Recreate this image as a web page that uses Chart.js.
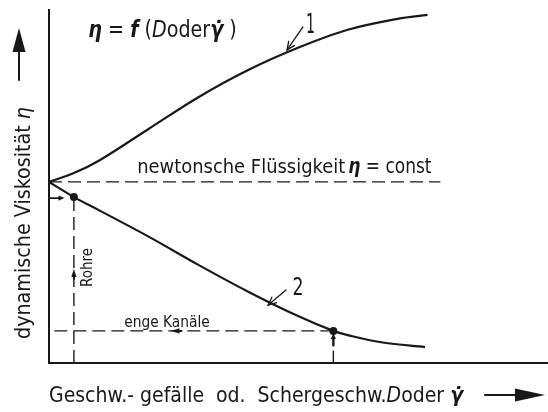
<!DOCTYPE html>
<html>
<head>
<meta charset="utf-8">
<script src="https://cdn.jsdelivr.net/npm/chart.js@4.4.1/dist/chart.umd.min.js"></script>
<style>
  html, body { margin: 0; padding: 0; background: #fff; }
  #wrap { width: 548px; height: 412px; }
</style>
</head>
<body>
<div id="wrap"><canvas id="chart"></canvas></div>
<script>
// shear rate D (relative units, 0..100) and viscosity eta (relative units, 0..100)
// curve 1: shear thickening, curve 2: shear thinning
var curve1X = [0, 5, 10, 20, 30, 40, 50, 60, 70, 76];
var curve1Y = [51.3, 53.8, 57.3, 66.3, 75.3, 83.0, 89.3, 94.4, 97.5, 98.6];
var curve2X = [0, 5, 10, 20, 30, 40, 50, 57.1, 60, 67, 75.5];
var curve2Y = [51.3, 47.0, 43.3, 35.8, 27.8, 20.2, 13.3, 9.1, 7.9, 5.8, 4.5];

// newtonian fluid: eta = const
var newtonY = 51.3;
var newtonEndX = 78.6;

// marked operating points on curve 2 (index into curve2X / curve2Y)
var pipeIdx = 1;      // Rohre
var channelIdx = 7;   // enge Kanäle

var ink = '#181818';
var family = '"DejaVu Sans", "Liberation Sans", sans-serif';

function pts(xs, ys) {
  return xs.map(function (x, i) { return { x: x, y: ys[i] }; });
}

function fontOf(p, size) {
  return (p.style || '') + ' ' + size + 'px ' + family;
}

// draws a run of text parts squeezed to a given width (narrow drawing lettering)
function drawRich(ctx, parts, x, y, size, width, angle) {
  var total = 0;
  parts.forEach(function (p) {
    ctx.font = fontOf(p, size);
    p.w = ctx.measureText(p.t).width;
    total += p.w;
  });
  ctx.save();
  ctx.translate(x, y);
  if (angle) ctx.rotate(angle);
  ctx.scale(width / total, 1);
  ctx.textBaseline = 'alphabetic';
  ctx.textAlign = 'left';
  var cx = 0;
  parts.forEach(function (p) {
    ctx.font = fontOf(p, size);
    ctx.fillText(p.t, cx, 0);
    cx += p.w;
  });
  ctx.restore();
}

function head(ctx, x, y, angle, len, half) {
  ctx.save();
  ctx.translate(x, y);
  ctx.rotate(angle);
  ctx.beginPath();
  ctx.moveTo(0, 0);
  ctx.lineTo(-len, -half);
  ctx.lineTo(-len, half);
  ctx.closePath();
  ctx.fill();
  ctx.restore();
}

function openHead(ctx, x, y, angle, len) {
  ctx.save();
  ctx.translate(x, y);
  ctx.rotate(angle);
  ctx.beginPath();
  ctx.moveTo(-len, -len * 0.45);
  ctx.lineTo(0, 0);
  ctx.lineTo(-len, len * 0.45);
  ctx.stroke();
  ctx.restore();
}

function line(ctx, x1, y1, x2, y2, w) {
  ctx.lineWidth = w;
  ctx.beginPath();
  ctx.moveTo(x1, y1);
  ctx.lineTo(x2, y2);
  ctx.stroke();
}

var sketch = {
  id: 'sketch',
  afterDatasetsDraw: function (chart) {
    var ctx = chart.ctx, area = chart.chartArea;
    var xs = chart.scales.x, ys = chart.scales.y;
    var X = function (v) { return xs.getPixelForValue(v); };
    var Y = function (v) { return ys.getPixelForValue(v); };
    var px = curve2X[pipeIdx], py = curve2Y[pipeIdx];
    var kx = curve2X[channelIdx], ky = curve2Y[channelIdx];

    ctx.save();
    ctx.fillStyle = ink;
    ctx.strokeStyle = ink;
    ctx.lineCap = 'round';

    // arrows along the guide lines
    head(ctx, X(px), Y(26.6), -Math.PI / 2, 8, 2.6);
    line(ctx, X(px), Y(26.6) + 6, X(px), Y(26.6) + 10, 2);
    head(ctx, X(24.4), Y(ky), Math.PI, 9, 2.6);
    line(ctx, X(24.4) + 6, Y(ky), X(24.4) + 11, Y(ky), 2);
    head(ctx, X(kx), Y(ky) + 2, -Math.PI / 2, 6, 2.6);
    line(ctx, X(kx), Y(ky) + 6, X(kx), Y(5.0), 2.4);
    line(ctx, X(0), Y(py) + 1, X(2.6), Y(py) + 1, 1.6);
    head(ctx, X(3.1), Y(py) + 1, 0, 6, 2.6);

    // leaders to the curve numbers
    line(ctx, X(47.8), Y(88.7), X(51.0), Y(95.2), 1.3);
    openHead(ctx, X(47.8), Y(88.7), Math.atan2(Y(88.7) - Y(95.2), X(47.8) - X(51.0)), 8);
    line(ctx, X(44.0), Y(16.4), X(47.6), Y(20.7), 1.3);
    openHead(ctx, X(44.0), Y(16.4), Math.atan2(Y(16.4) - Y(20.7), X(44.0) - X(47.6)), 8);

    // annotations
    drawRich(ctx, [
      { t: 'η', style: 'italic bold' }, { t: ' = ' }, { t: 'f', style: 'italic bold' },
      { t: ' (' }, { t: 'D', style: 'italic' }, { t: 'oder' }, { t: 'γ̇', style: 'italic bold' }, { t: ' )' }
    ], X(7.9), Y(92.4), 23, X(37.7) - X(7.9));
    drawRich(ctx, [{ t: 'newtonsche Flüssigkeit' }], X(17.7), Y(53.8), 20, X(59.5) - X(17.7));
    drawRich(ctx, [{ t: 'η', style: 'italic bold' }, { t: ' = const' }], X(60.1), Y(53.8), 21, X(76.8) - X(60.1));
    drawRich(ctx, [{ t: 'enge Kanäle' }], X(15.1), Y(10.2), 15, X(32.3) - X(15.1));
    drawRich(ctx, [{ t: 'Rohre' }], X(8.7), Y(21.5), 15, Y(21.5) - Y(32.6), -Math.PI / 2);
    drawRich(ctx, [{ t: '1' }], X(51.6), Y(93.5), 27, 9);
    drawRich(ctx, [{ t: '2' }], X(48.9), Y(19.3), 24, 11);

    // axis titles with direction arrows
    drawRich(ctx, [{ t: 'dynamische Viskosität ' }, { t: 'η', style: 'italic' }],
      area.left - 19, area.bottom - 24, 22, 232, -Math.PI / 2);
    line(ctx, area.left - 30, 80, area.left - 30, 48, 2);
    head(ctx, area.left - 30, 28, -Math.PI / 2, 24, 6.5);
    drawRich(ctx, [
      { t: 'Geschw.- gefälle  od.  Schergeschw.' }, { t: 'D', style: 'italic' },
      { t: 'oder ' }, { t: 'γ̇', style: 'italic bold' }
    ], area.left, area.bottom + 39, 21, 414);
    line(ctx, 485, area.bottom + 32, 518, area.bottom + 32, 2);
    head(ctx, 545, area.bottom + 32, 0, 30, 6.5);
    ctx.restore();
  }
};

var dash = [13, 6];
var radii = curve2X.map(function (x, i) { return (i === pipeIdx || i === channelIdx) ? 4 : 0; });

new Chart(document.getElementById('chart'), {
  type: 'line',
  data: {
    datasets: [{
      data: pts(curve1X, curve1Y),
      borderColor: ink,
      borderWidth: 2.2,
      pointRadius: 0,
      tension: 0.35
    }, {
      data: pts(curve2X, curve2Y),
      borderColor: ink,
      backgroundColor: ink,
      borderWidth: 2.2,
      pointRadius: radii,
      pointBorderWidth: 0,
      tension: 0.35
    }, {
      data: [{ x: 0, y: newtonY }, { x: newtonEndX, y: newtonY }],
      borderColor: ink,
      borderWidth: 1.4,
      borderDash: dash,
      pointRadius: 0
    }, {
      data: [{ x: curve2X[pipeIdx], y: 0 }, { x: curve2X[pipeIdx], y: curve2Y[pipeIdx] }],
      borderColor: ink,
      borderWidth: 1.4,
      borderDash: dash,
      pointRadius: 0
    }, {
      data: [{ x: curve2X[channelIdx], y: curve2Y[channelIdx] }, { x: 0, y: curve2Y[channelIdx] }],
      borderColor: ink,
      borderWidth: 1.4,
      borderDash: dash,
      pointRadius: 0
    }, {
      data: [{ x: curve2X[channelIdx], y: 0 }, { x: curve2X[channelIdx], y: 3.5 }],
      borderColor: ink,
      borderWidth: 1.4,
      pointRadius: 0
    }]
  },
  options: {
    responsive: true,
    maintainAspectRatio: false,
    animation: false,
    layout: { padding: { left: 49, right: 1, top: 10, bottom: 49 } },
    plugins: {
      legend: { display: false },
      tooltip: { enabled: false }
    },
    scales: {
      x: {
        type: 'linear', min: 0, max: 100,
        grid: { display: false, drawTicks: false },
        ticks: { display: false },
        border: { display: true, color: ink, width: 2 }
      },
      y: {
        type: 'linear', min: 0, max: 100,
        grid: { display: false, drawTicks: false },
        ticks: { display: false },
        border: { display: true, color: ink, width: 2 }
      }
    }
  },
  plugins: [sketch]
});
</script>
</body>
</html>
